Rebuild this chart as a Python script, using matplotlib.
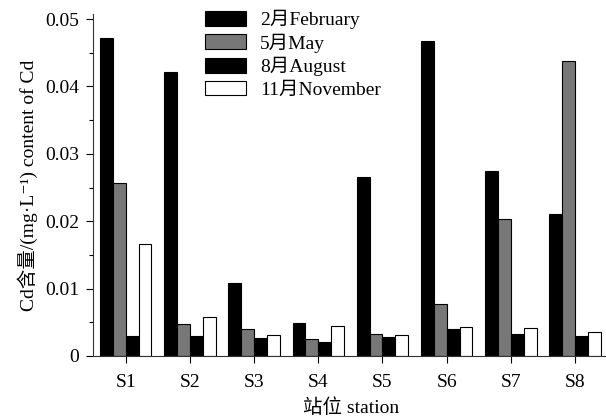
import matplotlib

matplotlib.use("Agg")

import matplotlib.pyplot as plt  # noqa: E402
import numpy as np  # noqa: E402
from matplotlib.ticker import MultipleLocator  # noqa: E402

plt.rcParams["font.family"] = ["Liberation Serif", "Noto Sans CJK SC", "DejaVu Serif"]
plt.rcParams["font.size"] = 14

stations = ["S1", "S2", "S3", "S4", "S5", "S6", "S7", "S8"]
feb = [0.0472, 0.0421, 0.0108, 0.0049, 0.0266, 0.0468, 0.0275, 0.0211]
may = [0.0257, 0.0047, 0.0040, 0.0025, 0.0032, 0.0077, 0.0203, 0.0438]
aug = [0.0030, 0.0030, 0.0026, 0.0021, 0.0028, 0.0040, 0.0032, 0.0030]
nov = [0.0166, 0.0058, 0.0031, 0.0045, 0.0031, 0.0043, 0.0042, 0.0035]

series = [
    ("2月February", feb, "black"),
    ("5月May", may, "#777777"),
    ("8月August", aug, "black"),
    ("11月November", nov, "white"),
]

fig = plt.figure(figsize=(6.06, 4.2), dpi=100)
ax = fig.add_axes([93 / 606, 64 / 420, 1 - 93 / 606 + 0.004, (356 - 14) / 420])

x = np.arange(1, len(stations) + 1)
width = 0.2
for i, (label, vals, color) in enumerate(series):
    ax.bar(x + (i - 1.5) * width, vals, width, color=color,
           edgecolor="black", linewidth=0.8, label=label)

ax.set_xlim(0.49, 8.52)
ax.set_ylim(0, 0.05 * 342 / 337)
ax.set_xticks(x)
ax.set_xticklabels(stations)
ax.set_yticks([0, 0.01, 0.02, 0.03, 0.04, 0.05])
ax.set_yticklabels(["0", "0.01", "0.02", "0.03", "0.04", "0.05"])
ax.yaxis.set_minor_locator(MultipleLocator(0.005))
ax.tick_params(axis="both", which="major", direction="out", length=5, width=0.8, pad=5)
ax.tick_params(axis="x", which="major", pad=8)
ax.tick_params(axis="y", which="minor", direction="out", length=3, width=0.8)
for side in ("top", "right"):
    ax.spines[side].set_visible(False)
for side in ("left", "bottom"):
    ax.spines[side].set_linewidth(0.8)
    ax.spines[side].set_color("#333333")

ax.set_xlabel("站位 station", labelpad=5)
ax.set_ylabel("Cd含量/(mg·L⁻¹) content of Cd", labelpad=5)

ax.legend(loc="upper left", bbox_to_anchor=(0.203, 1.035), frameon=False,
          handlelength=2.1, handleheight=0.8, handletextpad=0.7,
          labelspacing=0.22, borderaxespad=0)

plt.savefig("out.png", dpi=100)
plt.close(fig)
